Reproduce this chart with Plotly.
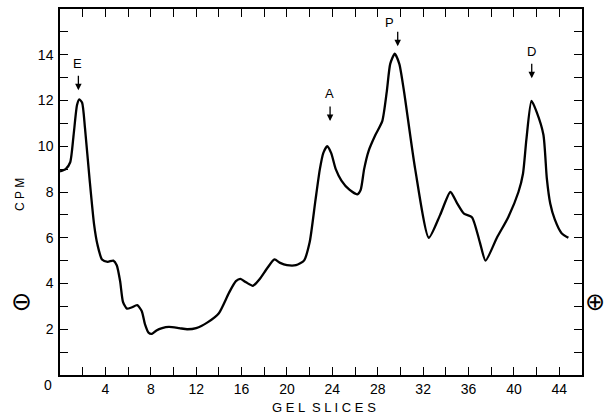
import plotly.graph_objects as go

# Gel slice profile
slices = [0, 0.5, 0.9, 1.2, 1.5, 1.7, 1.95, 2.2, 2.6, 3.0, 3.3, 3.7, 4.2, 4.7, 5.0, 5.3,
          5.55, 5.9, 6.3, 6.8, 7.2, 7.5, 7.8, 8.1, 8.5, 9.0, 9.6, 10.5, 11.2, 12.0, 13.0,
          14.0, 14.9, 15.5, 15.9, 16.4, 17.0, 17.6, 18.3, 18.9, 19.4, 20.0, 20.8, 21.5,
          22.0, 22.5, 22.9, 23.2, 23.55, 23.9, 24.3, 24.8, 25.5, 26.2, 26.5, 26.8, 27.2,
          27.8, 28.4, 28.8, 29.1, 29.5, 29.9, 30.3, 31.3, 32.5, 33.5, 34.4, 35.0, 35.6,
          36.3, 37.0, 37.5, 38.5, 39.5, 40.4, 40.8, 41.1, 41.55, 42.0, 42.6, 42.9, 43.2,
          43.6, 44.2, 44.8]
cpm = [8.9, 9.0, 9.3, 10.5, 11.8, 12.05, 11.9, 10.8, 8.6, 6.6, 5.7, 5.05, 4.95, 5.0, 4.8,
       4.1, 3.2, 2.9, 2.95, 3.05, 2.8, 2.2, 1.85, 1.8, 1.95, 2.05, 2.1, 2.05, 2.0, 2.05,
       2.3, 2.7, 3.6, 4.1, 4.2, 4.05, 3.9, 4.2, 4.7, 5.05, 4.9, 4.8, 4.8, 5.0, 5.8, 7.6,
       9.0, 9.7, 10.0, 9.7, 9.0, 8.5, 8.1, 7.9, 8.1, 9.0, 9.8, 10.5, 11.1, 12.4, 13.6,
       14.05, 13.6, 12.45, 9.0, 6.0, 7.0, 8.0, 7.5, 7.05, 6.9, 5.8, 5.0, 6.0, 6.9, 8.0,
       8.8, 10.3, 11.98, 11.5, 10.5, 8.6, 7.5, 6.8, 6.2, 6.0]

# Peak markers: label, arrow x, arrow-head y, label position
peak_labels = ["E", "A", "P", "D"]
peak_x = [1.62, 23.8, 29.76, 41.57]
peak_head_y = [12.45, 11.1, 14.37, 12.97]
peak_text_x = [1.55, 23.75, 29.05, 41.57]
peak_text_y = [13.6, 12.3, 15.4, 14.15]

x_tickvals = list(range(0, 46, 2))
x_ticktext = [str(v) if (v % 4 == 0 and v > 0) else "" for v in x_tickvals]
y_tickvals = list(range(0, 17))
y_ticktext = [str(v) if (v % 2 == 0 and 0 < v < 16) else "" for v in y_tickvals]

FONT = "Liberation Sans"
BLACK = "black"

fig = go.Figure()
fig.add_trace(go.Scatter(x=slices, y=cpm, mode="lines",
                         line=dict(color=BLACK, width=2.3, shape="spline", smoothing=0.6),
                         hoverinfo="skip", showlegend=False))

ann = []
for lab, x, hy, tx, ty in zip(peak_labels, peak_x, peak_head_y, peak_text_x, peak_text_y):
    ann.append(dict(x=x, y=hy, xref="x", yref="y", text="", showarrow=True,
                    ax=0, ay=-16, arrowhead=2, arrowsize=1, arrowwidth=1.3,
                    arrowcolor=BLACK, standoff=0))
    ann.append(dict(x=tx, y=ty, xref="x", yref="y", text=lab, showarrow=False,
                    xanchor="center", yanchor="middle",
                    font=dict(family=FONT, size=13, color=BLACK)))


def paper_text(x, y, text, size, family=FONT, angle=0):
    return dict(x=x, y=y, xref="paper", yref="paper", text=text, textangle=angle,
                showarrow=False, xanchor="center", yanchor="middle",
                font=dict(family=family, size=size, color=BLACK))


# origin label (drawn left of the y axis, as in the original)
ann.append(paper_text(-0.023, -0.027, "0", 14))
ann.append(paper_text(-0.0766, 0.492, "C P M", 12, angle=-90))
ann.append(paper_text(0.506, -0.090, "G E L  S L I C E S", 13))
ann.append(paper_text(-0.0734, 0.2003, "⊖", 25, family="DejaVu Sans"))
ann.append(paper_text(1.0245, 0.2, "⊕", 24, family="DejaVu Sans"))

fig.update_layout(
    width=606, height=415,
    margin=dict(l=60, r=24, t=9, b=40, autoexpand=False),
    paper_bgcolor="white", plot_bgcolor="white",
    annotations=ann,
    showlegend=False,
)
fig.update_xaxes(range=[0, 46], tickvals=x_tickvals, ticktext=x_ticktext,
                 ticks="inside", ticklen=8, tickwidth=1, tickcolor=BLACK,
                 showline=True, linecolor=BLACK, linewidth=1.5, mirror="ticks",
                 showgrid=False, zeroline=False, automargin=False,
                 tickfont=dict(family=FONT, size=14, color=BLACK))
fig.update_yaxes(range=[0, 16], tickvals=y_tickvals, ticktext=y_ticktext,
                 ticks="inside", ticklen=8, tickwidth=1, tickcolor=BLACK,
                 showline=True, linecolor=BLACK, linewidth=1.5, mirror="ticks",
                 showgrid=False, zeroline=False, automargin=False, ticklabelstandoff=2,
                 tickfont=dict(family=FONT, size=14, color=BLACK))

fig.write_html("out.html", config={"displayModeBar": False},
               post_script="document.body.style.margin='0';")
